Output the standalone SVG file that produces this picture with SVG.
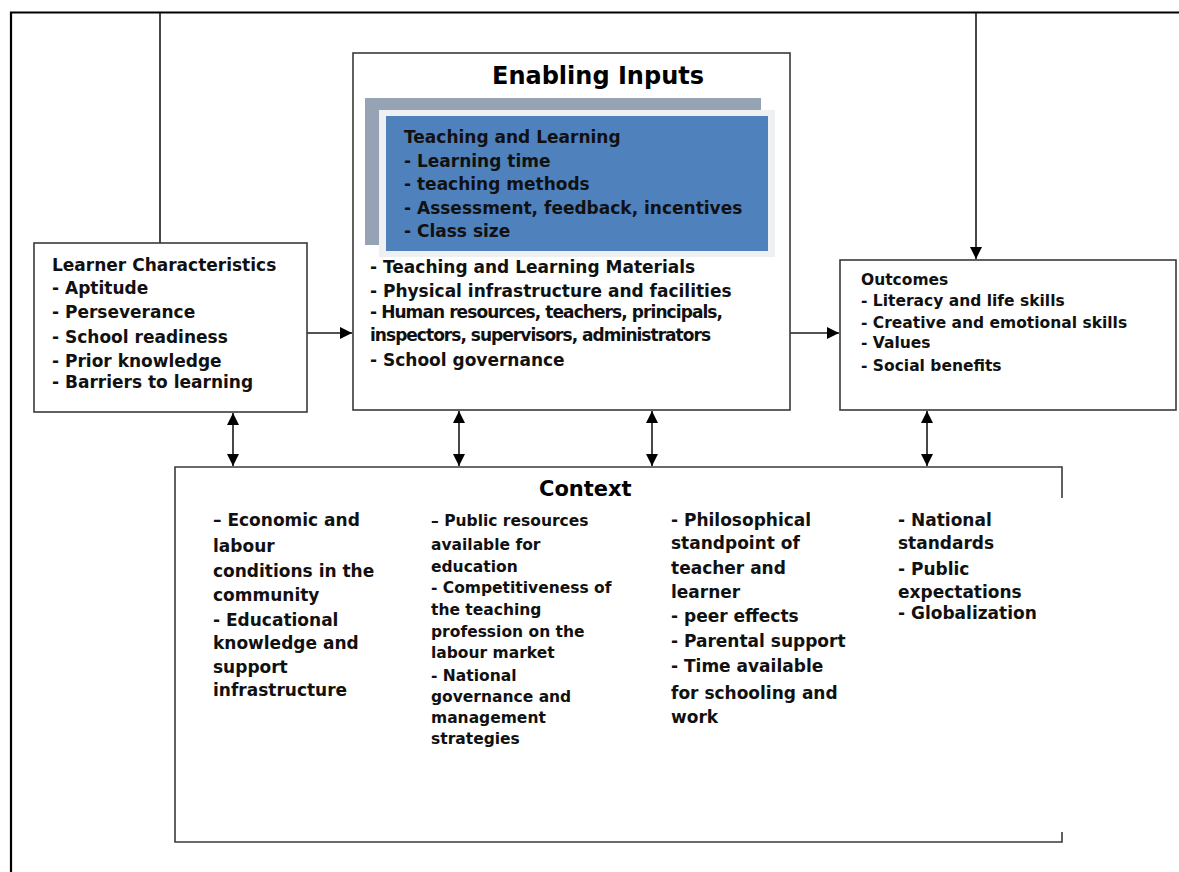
<svg xmlns="http://www.w3.org/2000/svg" width="1179" height="872" viewBox="0 0 1179 872">
  <style>
    .box { fill: #ffffff; stroke: #3a3a3a; stroke-width: 1.6; }
    .frame { fill: none; stroke: #000000; stroke-width: 2.2; }
    .wire { fill: none; stroke: #1a1a1a; stroke-width: 1.6; }
    text { font-family: "DejaVu Sans", Verdana, sans-serif; font-weight: bold; fill: #111111; }
    .t17 { font-size: 17px; }
    .t155 { font-size: 15.5px; }
    .title { font-size: 24px; fill: #000000; }
    .ctitle { font-size: 21px; fill: #000000; }
  </style>
  <defs>
    <marker id="head" viewBox="0 0 10 10" refX="10" refY="5" markerWidth="13" markerHeight="12" markerUnits="userSpaceOnUse" orient="auto-start-reverse">
      <path d="M0,0 L10,5 L0,10 Z" fill="#000000"/>
    </marker>
  </defs>

  <rect width="1179" height="872" fill="#ffffff"/>

  <!-- outer frame: top and left edges only -->
  <path class="frame" d="M11,872 L11,12.5 L1179,12.5"/>

  <!-- connectors -->
  <g id="connectors">
    <line class="wire" x1="160" y1="13" x2="160" y2="243"/>
    <line class="wire" x1="976" y1="13" x2="976" y2="259" marker-end="url(#head)"/>
    <line class="wire" x1="307" y1="333" x2="352" y2="333" marker-end="url(#head)"/>
    <line class="wire" x1="790" y1="333" x2="839" y2="333" marker-end="url(#head)"/>
    <line class="wire" x1="233" y1="413" x2="233" y2="466" marker-start="url(#head)" marker-end="url(#head)"/>
    <line class="wire" x1="459" y1="411" x2="459" y2="466" marker-start="url(#head)" marker-end="url(#head)"/>
    <line class="wire" x1="652" y1="411" x2="652" y2="466" marker-start="url(#head)" marker-end="url(#head)"/>
    <line class="wire" x1="927" y1="411" x2="927" y2="466" marker-start="url(#head)" marker-end="url(#head)"/>
  </g>

  <!-- Learner Characteristics -->
  <g id="learner">
    <rect class="box" x="34" y="243" width="273" height="169"/>
    <text class="t17" x="52" y="271">Learner Characteristics</text>
    <text class="t17" x="52" y="294">- Aptitude</text>
    <text class="t17" x="52" y="318">- Perseverance</text>
    <text class="t17" x="52" y="343">- School readiness</text>
    <text class="t17" x="52" y="367">- Prior knowledge</text>
    <text class="t17" x="52" y="388">- Barriers to learning</text>
  </g>

  <!-- Enabling Inputs -->
  <g id="enabling">
    <rect class="box" x="353" y="53" width="437" height="357"/>
    <text class="title" x="492" y="84">Enabling Inputs</text>
    <rect x="365" y="98" width="396" height="147" fill="#95a3b4"/>
    <rect x="379" y="110" width="396" height="147" fill="#eef0f2"/>
    <rect x="386" y="116" width="382" height="135" fill="#4f81bd"/>
    <text class="t17" x="404" y="143">Teaching and Learning</text>
    <text class="t17" x="404" y="167">- Learning time</text>
    <text class="t17" x="404" y="190">- teaching methods</text>
    <text class="t17" x="404" y="214">- Assessment, feedback, incentives</text>
    <text class="t17" x="404" y="237">- Class size</text>
    <text class="t17" x="370" y="273">- Teaching and Learning Materials</text>
    <text class="t17" x="370" y="297">- Physical infrastructure and facilities</text>
    <text class="t17" x="370" y="318" textLength="353" lengthAdjust="spacing">- Human resources, teachers, principals,</text>
    <text class="t17" x="370" y="341" textLength="341" lengthAdjust="spacing">inspectors, supervisors, administrators</text>
    <text class="t17" x="370" y="366">- School governance</text>
  </g>

  <!-- Outcomes -->
  <g id="outcomes">
    <rect class="box" x="840" y="260" width="336" height="150"/>
    <text class="t155" x="861" y="285">Outcomes</text>
    <text class="t155" x="861" y="306">- Literacy and life skills</text>
    <text class="t155" x="861" y="328">- Creative and emotional skills</text>
    <text class="t155" x="861" y="348">- Values</text>
    <text class="t155" x="861" y="371">- Social benefits</text>
  </g>

  <!-- Context -->
  <g id="context">
    <path class="box" fill="none" d="M1062,498 L1062,467 L175,467 L175,842 L1062,842 L1062,832" style="fill:none"/>
    <text class="ctitle" x="539" y="496">Context</text>

    <text class="t17" x="213" y="526">– Economic and</text>
    <text class="t17" x="213" y="552">labour</text>
    <text class="t17" x="213" y="577">conditions in the</text>
    <text class="t17" x="213" y="601">community</text>
    <text class="t17" x="213" y="626">- Educational</text>
    <text class="t17" x="213" y="649">knowledge and</text>
    <text class="t17" x="213" y="673">support</text>
    <text class="t17" x="213" y="696">infrastructure</text>

    <text class="t155" x="431" y="526">– Public resources</text>
    <text class="t155" x="431" y="550">available for</text>
    <text class="t155" x="431" y="572">education</text>
    <text class="t155" x="431" y="593">- Competitiveness of</text>
    <text class="t155" x="431" y="615">the teaching</text>
    <text class="t155" x="431" y="637">profession on the</text>
    <text class="t155" x="431" y="658">labour market</text>
    <text class="t155" x="431" y="681">- National</text>
    <text class="t155" x="431" y="702">governance and</text>
    <text class="t155" x="431" y="723">management</text>
    <text class="t155" x="431" y="744">strategies</text>

    <text class="t17" x="671" y="526">- Philosophical</text>
    <text class="t17" x="671" y="549">standpoint of</text>
    <text class="t17" x="671" y="574">teacher and</text>
    <text class="t17" x="671" y="598">learner</text>
    <text class="t17" x="671" y="622">- peer effects</text>
    <text class="t17" x="671" y="647">- Parental support</text>
    <text class="t17" x="671" y="672">- Time available</text>
    <text class="t17" x="671" y="699">for schooling and</text>
    <text class="t17" x="671" y="723">work</text>

    <text class="t17" x="898" y="526">- National</text>
    <text class="t17" x="898" y="549">standards</text>
    <text class="t17" x="898" y="575">- Public</text>
    <text class="t17" x="898" y="598">expectations</text>
    <text class="t17" x="898" y="619">- Globalization</text>
  </g>
</svg>
